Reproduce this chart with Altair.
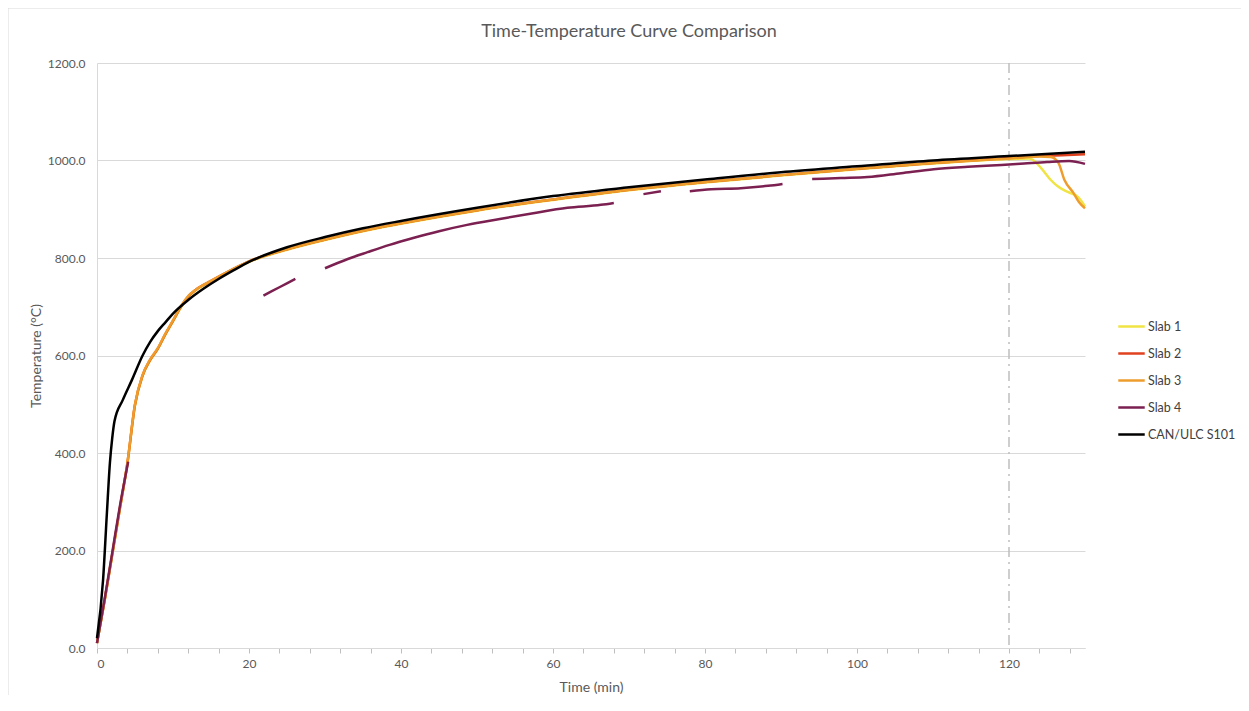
import altair as alt
import pandas as pd

SERIES = ["Slab 1", "Slab 2", "Slab 3", "Slab 4", "CAN/ULC S101"]
COLORS = ["#EFE443", "#E0411E", "#EE9C2C", "#7B2050", "#000000"]

# Slab 3 (orange)
s3_t = [0, 1, 2, 3, 4, 5, 6, 7, 8, 9, 10, 11, 12, 13, 15, 17, 20, 25, 30, 35, 40, 45, 50, 60, 70, 80, 90, 100, 110, 120, 124, 125.5, 126.5, 127.3, 128.5, 129.2, 130]
s3_v = [10, 98, 192, 286, 380, 500, 560, 592, 615, 645, 672, 700, 722, 735, 753, 770, 793, 818, 838, 856, 871, 885, 898, 920, 940, 956, 970, 983, 995, 1004, 1008, 1007, 995, 960, 933, 915, 902]

# Slab 1 (yellow)
s1_t = [0, 1, 2, 3, 4, 5, 6, 7, 8, 9, 10, 11, 12, 13, 15, 17, 20, 25, 30, 35, 40, 45, 50, 60, 70, 80, 90, 100, 110, 120, 122.7, 124.2, 125.5, 126.5, 127.8, 129.1, 130]
s1_v = [10, 97, 190, 284, 378, 498, 558, 590, 613, 643, 670, 698, 720, 734, 752, 769, 792, 817, 837, 855, 870, 884, 897, 919, 939, 955, 969, 982, 994, 1003, 1004, 985, 960, 946, 935, 925, 906]

# Slab 2 (red)
s2_t = [0, 1, 2, 3, 4, 5, 6, 7, 8, 9, 10, 11, 12, 13, 15, 17, 20, 25, 30, 35, 40, 45, 50, 60, 70, 80, 90, 100, 110, 120, 124, 127, 130]
s2_v = [10, 97, 191, 285, 379, 499, 559, 591, 614, 644, 671, 699, 721, 735, 753, 770, 793, 818, 838, 856, 871, 885, 898, 920, 940, 956, 970, 983, 995, 1005, 1009, 1011, 1013]

# Slab 4 (purple), recorded in separate pieces (gaps in the record)
s4_seg = ["a", "a", "a", "a", "a",
          "b", "b", "b",
          "c", "c", "c", "c", "c", "c", "c", "c", "c", "c", "c", "c",
          "d", "d",
          "e", "e", "e", "e", "e",
          "f", "f", "f", "f", "f", "f", "f", "f", "f", "f", "f"]
s4_t = [0, 1, 2, 3, 4.1,
        21.9, 24, 26.1,
        30.0, 33, 35.6, 38.5, 41.6, 45, 48.7, 53, 57.4, 61.9, 66.3, 68,
        71.9, 74.2,
        78, 80.8, 84.7, 88.3, 90.2,
        94.1, 97.9, 101.4, 105.8, 110.1, 114.6, 119, 122, 125, 127.9, 130]
s4_v = [10, 100, 195, 290, 382,
        723, 740, 757,
        779, 798, 812, 827, 841, 855, 868, 880, 892, 903, 909, 913,
        931, 937,
        937, 941, 943, 948, 952,
        962, 964, 966, 974, 982, 987, 991, 994, 997, 999, 993]

# CAN/ULC S101 standard curve (black)
std_t = [0, 0.8, 1.3, 1.7, 2, 2.3, 3.4, 4.6, 6, 7, 8, 9, 10, 12, 14, 16, 18, 20, 25, 30, 35, 40, 50, 60, 70, 80, 90, 100, 110, 120, 130]
std_v = [20, 140, 276, 380, 430, 465, 509, 550, 600, 628, 650, 668, 686, 714, 737, 757, 775, 792, 822, 843, 861, 876, 903, 927, 945, 961, 976, 988, 1000, 1009, 1018]

REF_TIME = [120]

rows = []
def add(series, ts, vs, segs=None):
    for i, (t, v) in enumerate(zip(ts, vs)):
        seg = segs[i] if segs else "a"
        rows.append({"series": series, "t": t, "temp": v, "key": series + "-" + seg})

add("Slab 1", s1_t, s1_v)
add("Slab 2", s2_t, s2_v)
add("Slab 3", s3_t, s3_v)
add("Slab 4", s4_t, s4_v, s4_seg)
add("CAN/ULC S101", std_t, std_v)
df = pd.DataFrame(rows)

FONT = "Lato"
GRAY = "#595959"

x_axis = alt.Axis(
    values=list(range(0, 129, 4)),
    labelExpr="datum.value % 20 == 0 ? datum.label : ''",
    labelOverlap=False,
    title="Time (min)",
    grid=False,
    tickSize=5,
    tickColor="#BFBFBF",
    domainColor="#D9D9D9",
    labelPadding=5,
    titlePadding=11,
)
x_scale = alt.Scale(domain=[0, 130], nice=False)
x_enc = alt.X("t:Q", scale=x_scale, axis=x_axis)
y_enc = alt.Y(
    "temp:Q",
    scale=alt.Scale(domain=[0, 1200], nice=False),
    axis=alt.Axis(
        values=[0, 200, 400, 600, 800, 1000, 1200],
        format=".1f",
        title="Temperature (°C)",
        ticks=False,
        domainColor="#D9D9D9",
        gridColor="#D9D9D9",
        labelPadding=12,
        titlePadding=4,
    ),
)
color_enc = alt.Color(
    "series:N",
    scale=alt.Scale(domain=SERIES, range=COLORS),
    legend=alt.Legend(
        title=None,
        orient="none",
        legendX=1020,
        legendY=249,
        symbolType="stroke",
        symbolSize=700,
        symbolStrokeWidth=2.5,
        labelFontSize=12.5,
        labelColor="#404040",
        labelFont=FONT,
        rowPadding=6,
        labelOffset=2,
        padding=0,
    ),
)

ref = alt.Chart(pd.DataFrame({"t": REF_TIME})).mark_rule(
    color="#BFBFBF", strokeWidth=1.5, strokeDash=[10, 5, 2, 5]
).encode(x=x_enc)

layers = [ref]
for s in SERIES:
    layers.append(
        alt.Chart(df)
        .transform_filter(alt.datum.series == s)
        .mark_line(interpolate="monotone", strokeWidth=2.5)
        .encode(x=x_enc, y=y_enc, color=color_enc, detail="key:N")
    )

frame_top = alt.Chart(pd.DataFrame({"a": [0]})).mark_rule(color="#D9D9D9", strokeWidth=1).encode(
    x=alt.value(-89), x2=alt.value(1144), y=alt.value(-55))
frame_left = alt.Chart(pd.DataFrame({"a": [0]})).mark_rule(color="#D9D9D9", strokeWidth=1).encode(
    x=alt.value(-89), y=alt.value(-55), y2=alt.value(632))
layers += [frame_top, frame_left]

chart = (
    alt.layer(*layers)
    .properties(
        width=988,
        height=585,
        title=alt.TitleParams(
            "Time-Temperature Curve Comparison",
            fontSize=18,
            font=FONT,
            fontWeight="normal",
            color=GRAY,
            anchor="middle",
            dx=38,
            dy=55,
            offset=22,
        ),
        autosize=alt.AutoSizeParams(type="none"),
        padding={"left": 89, "top": 55, "right": 156, "bottom": 50},
    )
    .configure_view(stroke=None)
    .configure_axis(
        labelFont=FONT,
        titleFont=FONT,
        labelFontSize=12,
        titleFontSize=14,
        labelColor=GRAY,
        titleColor=GRAY,
        titleFontWeight="normal",
    )
)

chart.save("out.html", embed_options={"renderer": "svg", "actions": False})
